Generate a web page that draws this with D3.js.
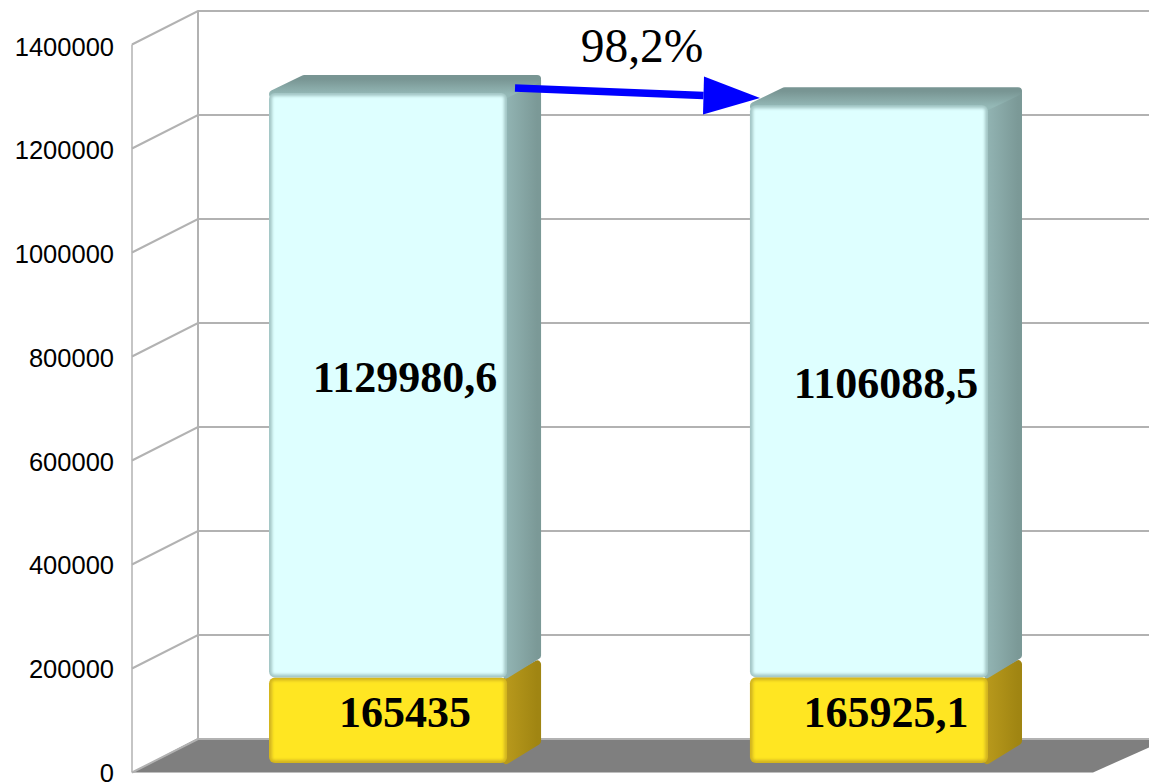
<!DOCTYPE html>
<html>
<head>
<meta charset="utf-8">
<script src="https://cdn.jsdelivr.net/npm/d3@7"></script>
<style>
  html, body { margin: 0; padding: 0; background: #fff; overflow: hidden; }
  svg { display: block; }
</style>
</head>
<body>
<div id="chart"></div>
<script>
// data
const groups = ["first", "second"];
const yellowValues = [165435, 165925.1];
const cyanValues = [1129980.6, 1106088.5];
const tickValues = [0, 200000, 400000, 600000, 800000, 1000000, 1200000, 1400000];
const changeLabel = ["98,2%"];

const width = 1149, height = 782;
const depth = { wallX: 66, wallY: 33.5, barX: 34, barY: 18 };

const svg = d3.select("#chart").append("svg")
  .attr("width", width)
  .attr("height", height);

// grid scale sits on the front edge of the floor, bars stand a bit further in
const yGrid = d3.scaleLinear().domain([0, 1400000]).range([772.5, 44.5]);
const yLabel = d3.scaleLinear().domain([0, 1400000]).range([773, 47]);
const yBar = d3.scaleLinear().domain([0, 1400000]).range([763, 39]);
const xBar = d3.scaleBand().domain(groups).range([269, 988]).paddingInner(0.505);

const defs = svg.append("defs");

function gradient(id, x2, y2, from, to) {
  const g = defs.append("linearGradient").attr("id", id)
    .attr("x1", 0).attr("y1", 0).attr("x2", x2).attr("y2", y2);
  g.append("stop").attr("offset", "0%").attr("stop-color", from);
  g.append("stop").attr("offset", "100%").attr("stop-color", to);
}
gradient("cyanTop", 0, 1, "#789593", "#94b8b6");
gradient("cyanSide", 1, 0, "#92b4b3", "#7b9997");
gradient("yellowSide", 1, 0, "#b8991c", "#a08512");
defs.append("filter").attr("id", "soft")
  .attr("x", "-5%").attr("y", "-5%").attr("width", "110%").attr("height", "110%")
  .append("feGaussianBlur").attr("stdDeviation", 1.5);

// floor
svg.append("polygon")
  .attr("points", [[132, 772.5], [198, 738], [1170, 738], [1093, 772.5]].join(" "))
  .attr("fill", "#7f7f7f");

// walls and grid
const gridColor = "#b2b2b2";
const grid = svg.append("g").attr("fill", "none").attr("stroke", gridColor).attr("stroke-width", 2);
grid.selectAll("path.tick-line")
  .data(tickValues)
  .join("path")
  .attr("class", "tick-line")
  .attr("d", d => {
    const y = yGrid(d);
    return d3.line()([[132, y], [132 + depth.wallX, y - depth.wallY], [width, y - depth.wallY]]);
  });
grid.append("line")
  .attr("x1", 132).attr("x2", 132)
  .attr("y1", yGrid(0)).attr("y2", yGrid(1400000))
  .attr("stroke-width", 1.5);
grid.append("line")
  .attr("x1", 198).attr("x2", 198)
  .attr("y1", yGrid(0) - depth.wallY).attr("y2", yGrid(1400000) - depth.wallY);

// y labels
const yAxis = d3.axisLeft(yLabel)
  .tickValues(tickValues)
  .tickFormat(d3.format("d"))
  .tickSize(0)
  .tickPadding(0);
const axisG = svg.append("g")
  .attr("transform", "translate(114,0)")
  .call(yAxis);
axisG.select(".domain").remove();
axisG.selectAll("text")
  .attr("font-family", "'Liberation Sans', Arial, sans-serif")
  .attr("font-size", 25.5)
  .attr("fill", "#000");

function drawBlock(g, x, w, yTop, yBottom, face, edge, sideFill, topFill) {
  const dx = depth.barX, dy = depth.barY;
  const inset = 4;
  const sideIn = [[x + w - 1, yTop + inset], [x + w + dx - inset, yTop - dy + inset + 1],
    [x + w + dx - inset, yBottom - dy - inset], [x + w - 1, yBottom - inset + 1]];
  const topIn = [[x + inset, yTop + 1], [x + dx + 1, yTop - dy + inset],
    [x + w + dx - inset, yTop - dy + inset], [x + w - 1, yTop + 1]];

  g.append("polygon").attr("points", sideIn.join(" "))
    .attr("fill", sideFill).attr("stroke", sideFill)
    .attr("stroke-width", inset * 2).attr("stroke-linejoin", "round");
  if (topFill) {
    g.append("polygon").attr("points", topIn.join(" "))
      .attr("fill", topFill).attr("stroke", topFill)
      .attr("stroke-width", inset * 2).attr("stroke-linejoin", "round");
  }
  // front face: darker rounded box with a blurred light box on it
  g.append("rect")
    .attr("x", x).attr("y", yTop).attr("width", w).attr("height", yBottom - yTop)
    .attr("rx", 6).attr("fill", edge);
  g.append("rect")
    .attr("x", x + 3).attr("y", yTop + 3).attr("width", w - 6).attr("height", yBottom - yTop - 6)
    .attr("rx", 2).attr("fill", face).attr("filter", "url(#soft)");
}

const labelFont = "'Liberation Serif', 'Times New Roman', serif";

function addLabel(x, yMid, value) {
  svg.append("text")
    .attr("x", x)
    .attr("y", yMid + 7)
    .attr("text-anchor", "middle")
    .attr("font-family", labelFont)
    .attr("font-weight", "bold")
    .attr("font-size", 44)
    .attr("fill", "#000")
    .text(String(value).replace(".", ","));
}

groups.forEach((key, i) => {
  const x = xBar(key), w = xBar.bandwidth();
  const g = svg.append("g").attr("class", "stack");
  const yellowTop = yBar(yellowValues[i]);
  const cyanTop = yBar(yellowValues[i] + cyanValues[i]);
  drawBlock(g, x, w, yellowTop, yBar(0), "#ffe620", "#d2b41e", "url(#yellowSide)", null);
  drawBlock(g, x, w, cyanTop, yellowTop, "#deffff", "#a3c6c5", "url(#cyanSide)", "url(#cyanTop)");
  addLabel(x + w / 2 + 17, (yellowTop + cyanTop) / 2, cyanValues[i]);
  addLabel(x + w / 2 + 17, (yellowTop + yBar(0)) / 2, yellowValues[i]);
});

// arrow between the two stacks
const arrowStart = [515, 88], arrowEnd = [760, 98], headBack = [703.5, 95.5];
svg.append("line")
  .attr("x1", arrowStart[0]).attr("y1", arrowStart[1])
  .attr("x2", headBack[0]).attr("y2", headBack[1])
  .attr("stroke", "#0000ff").attr("stroke-width", 7.5);
svg.append("polygon")
  .attr("points", [[704, 76.5], arrowEnd, [703, 114.5]].join(" "))
  .attr("fill", "#0000ff");

svg.append("text")
  .attr("x", 642)
  .attr("y", 62)
  .attr("text-anchor", "middle")
  .attr("font-family", labelFont)
  .attr("font-size", 47.5)
  .attr("fill", "#000")
  .text(changeLabel[0]);
</script>
</body>
</html>
